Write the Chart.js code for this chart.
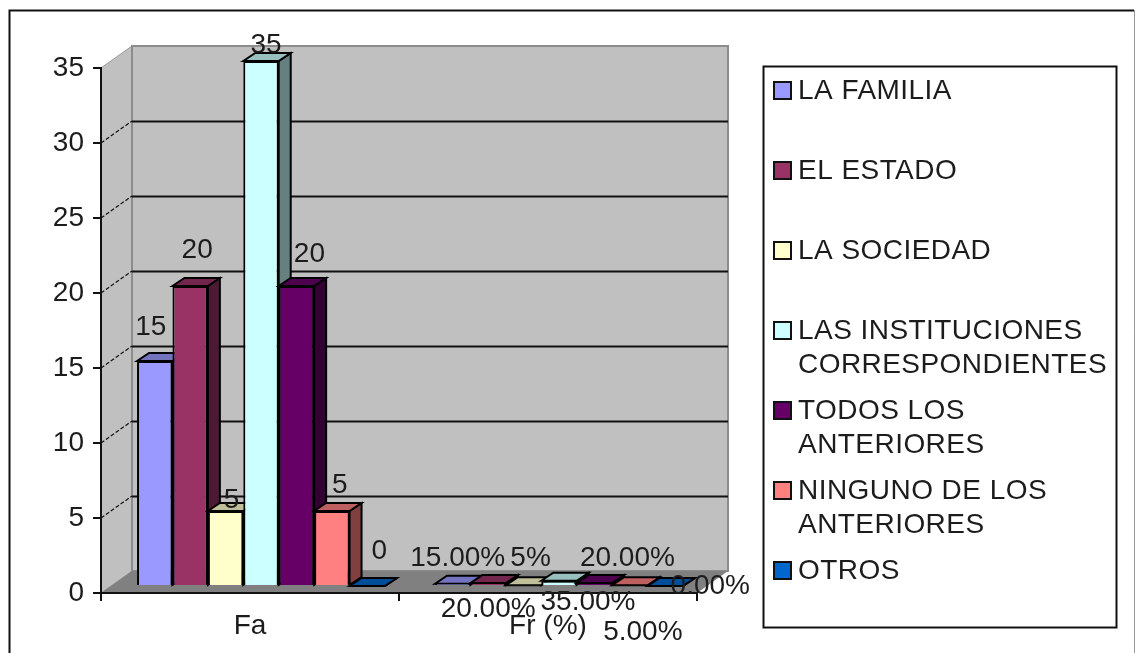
<!DOCTYPE html>
<html><head><meta charset="utf-8">
<script src="https://cdn.jsdelivr.net/npm/chart.js@4"></script>
<style>html,body{margin:0;padding:0;background:#fff}canvas{display:block}</style>
</head><body><canvas id="c" width="1135" height="653"></canvas>
<script>
const categories = ["Fa", "Fr (%)"];
const seriesNames = ["LA FAMILIA", "EL ESTADO", "LA SOCIEDAD", "LAS INSTITUCIONES CORRESPONDIENTES", "TODOS LOS ANTERIORES", "NINGUNO DE LOS ANTERIORES", "OTROS"];
const legendLines = [["LA FAMILIA"], ["EL ESTADO"], ["LA SOCIEDAD"], ["LAS INSTITUCIONES", "CORRESPONDIENTES"], ["TODOS LOS", "ANTERIORES"], ["NINGUNO DE LOS", "ANTERIORES"], ["OTROS"]];
const faValues = [15, 20, 5, 35, 20, 5, 0];
const frValues = [0.15, 0.20, 0.05, 0.35, 0.20, 0.05, 0];
const faLabels = ["15", "20", "5", "35", "20", "5", "0"];
const frLabels = ["15.00%", "20.00%", "5%", "35.00%", "20.00%", "5.00%", "0.00%"];
const yTicks = [0, 5, 10, 15, 20, 25, 30, 35];

const fronts = ["#9999FF", "#993366", "#FFFFCC", "#CCFFFF", "#660066", "#FF8080", "#0066CC"];
const tops = ["#7373BF", "#73264D", "#BFBF99", "#99BFBF", "#4D004D", "#BF6060", "#004D99"];
const sides = ["#4D4D80", "#4D1A33", "#808066", "#668080", "#330033", "#804040", "#003366"];
const faOffsets = [[-4,-34],[7,-36],[6,-11],[5,-16],[13,-32],[8,-26],[12,-35]];
const frOffsets = [[5,-25],[0,26],[7,-27],[29,22],[33,-25],[13,47],[45,0]];

const FONT = '28px "Liberation Sans", Arial, sans-serif';
const INK = '#1c1c1c';
const WALL = {dx: 31, dy: -22};
const BAR = {dx: 11, dy: -7, ddx: 12, ddy: -8};

const poly = (ctx, pts, fill, stroke, lw) => {
  ctx.beginPath();
  pts.forEach((p, i) => i ? ctx.lineTo(p[0], p[1]) : ctx.moveTo(p[0], p[1]));
  ctx.closePath();
  if (fill) { ctx.fillStyle = fill; ctx.fill(); }
  if (stroke) { ctx.strokeStyle = stroke; ctx.lineWidth = lw; ctx.stroke(); }
};

const scene = {
  id: 'scene',
  beforeDraw(chart) {
    const {ctx, scales: {x, y}} = chart;
    const L = x.left, R = x.right, T = y.top, B = y.bottom;
    ctx.save();
    ctx.fillStyle = '#fff'; ctx.fillRect(0, 0, chart.width, chart.height);
    ctx.strokeStyle = '#111'; ctx.lineWidth = 2;
    ctx.beginPath(); ctx.moveTo(9.5, 653); ctx.lineTo(9.5, 10.5); ctx.lineTo(1134, 10.5); ctx.stroke();
    ctx.strokeStyle = '#999'; ctx.lineWidth = 1;
    ctx.beginPath(); ctx.moveTo(1134.5, 10); ctx.lineTo(1134.5, 653); ctx.stroke();
    const bl = L + WALL.dx, br = R + WALL.dx, bt = T + WALL.dy, bb = B + WALL.dy;
    poly(ctx, [[L, T], [bl, bt], [bl, bb], [L, B]], '#C0C0C0', '#9a9a9a', 1);
    poly(ctx, [[bl, bt], [br, bt], [br, bb], [bl, bb]], '#C0C0C0', '#8c8c8c', 2);
    poly(ctx, [[L, B], [bl, bb], [br, bb], [R, B]], '#808080');
    yTicks.forEach(v => {
      if (v === 0 || v === 35) return;
      const py = y.getPixelForValue(v);
      ctx.strokeStyle = '#111'; ctx.lineWidth = 2;
      ctx.beginPath(); ctx.moveTo(bl, py + WALL.dy + 0.5); ctx.lineTo(br, py + WALL.dy + 0.5); ctx.stroke();
      ctx.lineWidth = 1.2; ctx.setLineDash([4, 2]);
      ctx.beginPath(); ctx.moveTo(L, py); ctx.lineTo(bl, py + WALL.dy); ctx.stroke();
      ctx.setLineDash([]);
    });
    ctx.restore();
  },
  beforeDatasetDraw() { return false; },
  afterDatasetsDraw(chart) {
    const {ctx} = chart;
    // bars, left to right, each with its depth faces, shifted into the depth of the floor
    ctx.save();
    ctx.translate(BAR.dx, BAR.dy);
    chart.data.datasets.forEach((ds, i) => {
      chart.getDatasetMeta(i).data.forEach(bar => {
        const l = bar.x - bar.width / 2, r = bar.x + bar.width / 2;
        poly(ctx, [[r, bar.y], [r + BAR.ddx, bar.y + BAR.ddy], [r + BAR.ddx, bar.base + BAR.ddy], [r, bar.base]], sides[i], '#000', 2);
        poly(ctx, [[l, bar.y], [l + BAR.ddx, bar.y + BAR.ddy], [r + BAR.ddx, bar.y + BAR.ddy], [r, bar.y]], tops[i], '#000', 2);
        bar.draw(ctx);
      });
    });
    ctx.restore();
    // value labels
    ctx.save();
    ctx.font = FONT; ctx.fillStyle = INK; ctx.textAlign = 'center'; ctx.textBaseline = 'middle';
    chart.data.datasets.forEach((ds, i) => {
      const els = chart.getDatasetMeta(i).data;
      [[faLabels, faOffsets], [frLabels, frOffsets]].forEach(([txt, off], c) => {
        ctx.fillText(txt[i], els[c].x + BAR.dx + off[i][0], els[c].y + BAR.dy + off[i][1]);
      });
    });
    // legend
    const box = {l: 763, t: 66, r: 1116, b: 627};
    ctx.fillStyle = '#fff'; ctx.fillRect(box.l, box.t, box.r - box.l, box.b - box.t);
    ctx.strokeStyle = '#111'; ctx.lineWidth = 2;
    ctx.strokeRect(box.l + .5, box.t + .5, box.r - box.l, box.b - box.t);
    ctx.textAlign = 'left'; ctx.letterSpacing = '0.45px';
    legendLines.forEach((lines, i) => {
      const cy = 90 + i * 80;
      ctx.fillStyle = fronts[i]; ctx.fillRect(774, cy - 8, 17, 17);
      ctx.strokeStyle = '#111'; ctx.lineWidth = 2; ctx.strokeRect(774, cy - 8, 17, 17);
      ctx.fillStyle = INK;
      lines.forEach((t, k) => ctx.fillText(t, 798, cy + 1 + k * 34));
    });
    ctx.restore();
  }
};

const order = [0, 1, 2, 3, 4, 5, 6];
new Chart(document.getElementById('c'), {
  type: 'bar',
  plugins: [scene],
  data: {
    labels: categories,
    datasets: order.map(i => ({
      label: seriesNames[i],
      data: [faValues[i], frValues[i]],
      backgroundColor: fronts[i],
      borderColor: '#000',
      borderWidth: 2,
      categoryPercentage: 0.832,
      barPercentage: 1,
      clip: false
    }))
  },
  options: {
    responsive: false,
    animation: false,
    layout: {padding: {left: 0, right: 438, top: 68, bottom: 0}},
    plugins: {legend: {display: false}, tooltip: {enabled: false}},
    scales: {
      x: {
        afterFit: s => { s.height = 60; },
        grid: {offset: true, drawOnChartArea: false, drawTicks: true, tickLength: 8, color: '#111', lineWidth: 2},
        border: {color: '#111', width: 2},
        ticks: {font: {family: '"Liberation Sans", Arial, sans-serif', size: 28}, color: INK, padding: 8, maxRotation: 0, autoSkip: false}
      },
      y: {
        min: 0, max: 35,
        afterFit: s => { s.width = 101; },
        afterBuildTicks: s => { s.ticks = yTicks.map(v => ({value: v})); },
        grid: {drawOnChartArea: false, drawTicks: true, tickLength: 8, color: '#111', lineWidth: 2},
        border: {color: '#111', width: 2},
        ticks: {font: {family: '"Liberation Sans", Arial, sans-serif', size: 28}, color: INK, padding: 9}
      }
    }
  }
});
</script></body></html>
